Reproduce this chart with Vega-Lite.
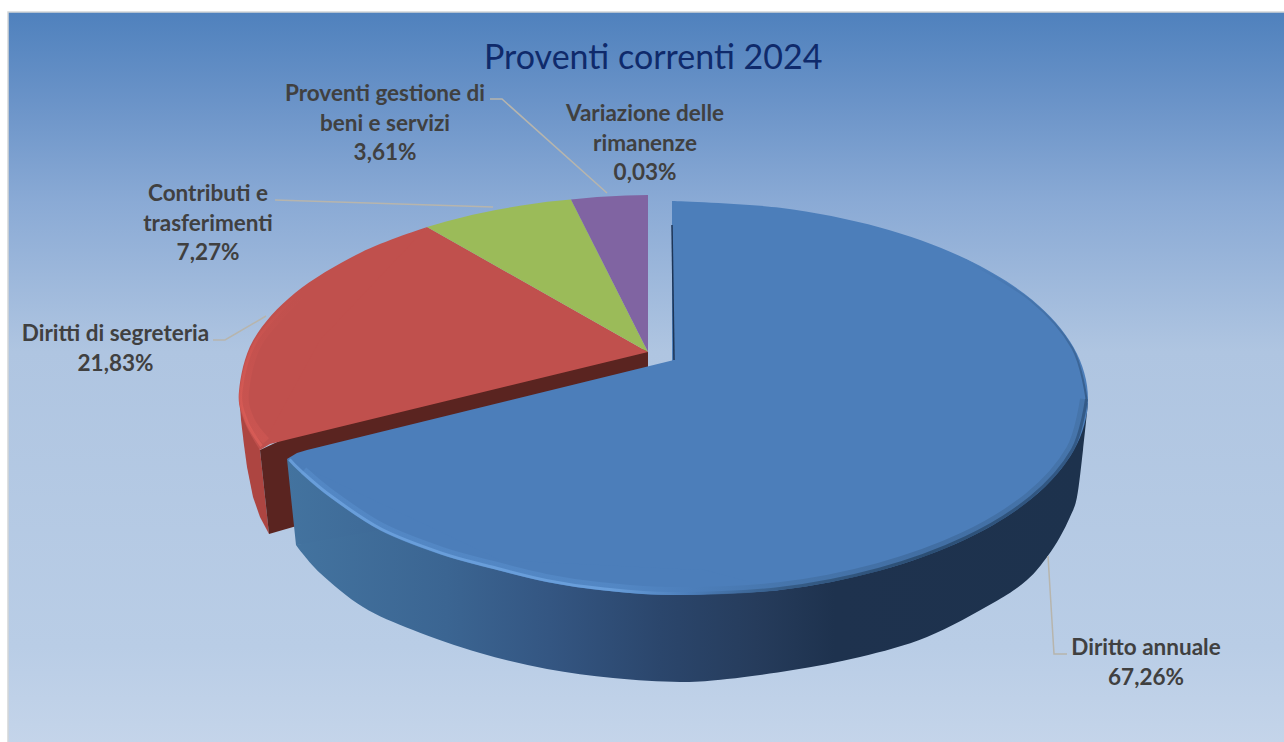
{
"$schema":"https://vega.github.io/schema/vega-lite/v6.json",
"width":1284,"height":742,"padding":0,"autosize":{"type":"none"},
"background":"#ffffff",
"config":{"view":{"stroke":null}},
"title":{"text":"Proventi correnti 2024","anchor":"start","frame":"group","dx":484,"offset":-76,"font":"Lato","fontSize":34,"fontWeight":"normal","color":"#0f2a6b"},
"datasets":{
"sfondo":[{"x":8,"y":12},{"x":1290,"y":12},{"x":1290,"y":750},{"x":8,"y":750}],
"annuale_arc":[{"x":672,"y":201},{"x":780,"y":207.8},{"x":880,"y":227.5},{"x":966.2,"y":259},{"x":1032.3,"y":300},{"x":1073.8,"y":347.8},{"x":1088,"y":399},{"x":1073.8,"y":450.2},{"x":1032.3,"y":498},{"x":966.2,"y":539},{"x":880,"y":570.5},{"x":780,"y":590},{"x":672,"y":595}],
"annuale_arc_left":[{"x":780,"y":590},{"x":672,"y":595},{"x":600,"y":590},{"x":547,"y":582},{"x":490,"y":568},{"x":440,"y":554},{"x":380,"y":530},{"x":330,"y":497},{"x":300,"y":472},{"x":287,"y":459}],
"annuale_core":[{"x":674,"y":360},{"x":307,"y":450},{"x":297,"y":453},{"x":287,"y":459},{"x":500,"y":560},{"x":700,"y":570},{"x":700,"y":360}],
"annuale_wall":[{"x":296,"y":545},{"x":320,"y":573},{"x":363,"y":607},{"x":413,"y":630},{"x":480,"y":653},{"x":547,"y":669},{"x":613,"y":678},{"x":680,"y":682},{"x":727,"y":679},{"x":793,"y":670},{"x":860,"y":657},{"x":927,"y":637},{"x":993,"y":603},{"x":1027,"y":580},{"x":1047,"y":557},{"x":1060,"y":537},{"x":1070,"y":517},{"x":1077,"y":497},{"x":1083,"y":450},{"x":1088,"y":403}],
"annuale_wall_end":[{"x":287,"y":459},{"x":296,"y":545},{"x":420,"y":540},{"x":420,"y":500},{"x":330,"y":480}],
"annuale_soft":[{"x":303.6,"y":470.5},{"x":333.3,"y":495},{"x":382.8,"y":527.4},{"x":442.2,"y":551},{"x":491.7,"y":564.6},{"x":548.2,"y":578.3},{"x":600.7,"y":586.2},{"x":672,"y":591},{"x":779,"y":586.2},{"x":878,"y":567},{"x":963.4,"y":536.2},{"x":1028.8,"y":496},{"x":1070,"y":449.2},{"x":1084,"y":399}],
"annuale_edge":[{"x":289.5,"y":459.5},{"x":301.3,"y":471.4},{"x":331.2,"y":496.3},{"x":381,"y":529},{"x":440.8,"y":552.8},{"x":490.7,"y":566.7},{"x":547.5,"y":580.6},{"x":600.3,"y":588.5},{"x":672,"y":593.5},{"x":779.6,"y":588.5},{"x":879.3,"y":569.2},{"x":965.1,"y":537.9},{"x":1031,"y":497.2},{"x":1072.4,"y":449.8},{"x":1086.5,"y":399}],
"annuale_rim":[{"x":1086.5,"y":399},{"x":1072.4,"y":348.2},{"x":1031,"y":300.8},{"x":965.2,"y":260}],
"annuale_inner":[{"x":672,"y":225},{"x":674,"y":360}],
"segreteria_arc":[{"x":427,"y":227},{"x":361,"y":252.4},{"x":295,"y":293},{"x":253.2,"y":340.3},{"x":239,"y":391},{"x":244.5,"y":422},{"x":260,"y":450}],
"segreteria_core":[{"x":427,"y":227},{"x":648,"y":352},{"x":290,"y":439},{"x":270,"y":444},{"x":260,"y":450},{"x":320,"y":340}],
"segreteria_wall":[{"x":239,"y":391},{"x":241,"y":420},{"x":244,"y":445},{"x":247,"y":467},{"x":253,"y":497},{"x":260,"y":517},{"x":269,"y":534},{"x":260,"y":450}],
"segreteria_cut":[{"x":260,"y":450},{"x":290,"y":436},{"x":645,"y":349},{"x":648,"y":352},{"x":648,"y":367},{"x":300,"y":525},{"x":269,"y":534}],
"segreteria_soft":[{"x":300,"y":296},{"x":259,"y":342},{"x":245,"y":391},{"x":250,"y":419},{"x":266,"y":441}],
"segreteria_edge":[{"x":297,"y":294.5},{"x":256,"y":341},{"x":241,"y":391},{"x":246.5,"y":421},{"x":261.5,"y":446}],
"contributi_top":[{"x":648,"y":352},{"x":427,"y":227},{"x":447,"y":221.3},{"x":472.7,"y":214.8},{"x":495.8,"y":209.9},{"x":521.6,"y":205.4},{"x":547.3,"y":201.7},{"x":571,"y":199.5}],
"gestione_top":[{"x":648,"y":352},{"x":571,"y":199.5},{"x":597,"y":197},{"x":626,"y":195.5},{"x":648,"y":195}],
"leaders":[
{"name":"Proventi gestione di beni e servizi","x":490,"y":99},{"name":"Proventi gestione di beni e servizi","x":502,"y":99},{"name":"Proventi gestione di beni e servizi","x":607,"y":193},
{"name":"Contributi e trasferimenti","x":275,"y":200},{"name":"Contributi e trasferimenti","x":493,"y":207},
{"name":"Diritti di segreteria","x":213,"y":340},{"name":"Diritti di segreteria","x":225,"y":340},{"name":"Diritti di segreteria","x":266,"y":316},
{"name":"Diritto annuale","x":1048,"y":556},{"name":"Diritto annuale","x":1054,"y":654},{"name":"Diritto annuale","x":1067,"y":654}],
"labels":[
{"name":"Diritto annuale","share":67.26,"label":"Diritto annuale\n67,26%","cx":1146,"cy":648},
{"name":"Diritti di segreteria","share":21.83,"label":"Diritti di segreteria\n21,83%","cx":115.5,"cy":334},
{"name":"Contributi e trasferimenti","share":7.27,"label":"Contributi e\ntrasferimenti\n7,27%","cx":208,"cy":194},
{"name":"Proventi gestione di beni e servizi","share":3.61,"label":"Proventi gestione di\nbeni e servizi\n3,61%","cx":385,"cy":94},
{"name":"Variazione delle rimanenze","share":0.03,"label":"Variazione delle\nrimanenze\n0,03%","cx":645,"cy":114}]
},
"encoding":{
"x":{"field":"x","type":"quantitative","axis":null,"scale":{"domain":[0,1284],"nice":false,"zero":false}},
"y":{"field":"y","type":"quantitative","axis":null,"scale":{"domain":[0,742],"reverse":true,"nice":false,"zero":false}},
"order":{"value":null}
},
"layer":[
{"data":{"name":"sfondo"},"mark":{"type":"line","interpolate":"linear-closed","stroke":"#d4d6d8","strokeWidth":1.5,"fill":{"gradient":"linear","x1":0,"y1":0,"x2":0,"y2":1,"stops":[{"offset":0,"color":"#4f81bd"},{"offset":0.12,"color":"#6a93c8"},{"offset":0.257,"color":"#8aaad5"},{"offset":0.46,"color":"#afc5e1"},{"offset":0.86,"color":"#b9cde6"},{"offset":1,"color":"#c5d5ea"}]}}},
{"data":{"name":"segreteria_wall"},"mark":{"type":"line","interpolate":"linear-closed","strokeWidth":0,"fill":"#ad4541"}},
{"data":{"name":"segreteria_cut"},"mark":{"type":"line","interpolate":"linear-closed","strokeWidth":0,"fill":"#5a2420"}},
{"data":{"name":"segreteria_arc"},"mark":{"type":"line","interpolate":"cardinal","strokeWidth":0,"fill":"#c0504d"}},
{"data":{"name":"segreteria_core"},"mark":{"type":"line","interpolate":"linear-closed","strokeWidth":0,"fill":"#c0504d"}},
{"data":{"name":"segreteria_soft"},"mark":{"type":"line","interpolate":"cardinal","strokeWidth":8,"opacity":0.3,"stroke":{"gradient":"linear","x1":0,"y1":0,"x2":0,"y2":1,"stops":[{"offset":0,"color":"#c0504d"},{"offset":0.5,"color":"#d45853"},{"offset":1,"color":"#e2605a"}]}}},
{"data":{"name":"segreteria_edge"},"mark":{"type":"line","interpolate":"cardinal","strokeWidth":3,"opacity":0.55,"stroke":{"gradient":"linear","x1":0,"y1":0,"x2":0,"y2":1,"stops":[{"offset":0,"color":"#c0504d"},{"offset":0.4,"color":"#d45853"},{"offset":1,"color":"#ea655d"}]}}},
{"data":{"name":"contributi_top"},"mark":{"type":"line","interpolate":"linear-closed","strokeWidth":0,"fill":"#9bbb59"}},
{"data":{"name":"gestione_top"},"mark":{"type":"line","interpolate":"linear-closed","strokeWidth":0,"fill":"#8064a2"}},
{"data":{"name":"annuale_wall_end"},"mark":{"type":"line","interpolate":"linear-closed","strokeWidth":0,"fill":{"gradient":"linear","x1":0,"y1":0,"x2":1,"y2":0,"stops":[{"offset":0,"color":"#43739f"},{"offset":1,"color":"#3c6694"}]}}},
{"data":{"name":"annuale_wall"},"mark":{"type":"line","interpolate":"cardinal","strokeWidth":0,"fill":{"gradient":"linear","x1":0,"y1":0,"x2":1,"y2":0,"stops":[{"offset":0,"color":"#43739f"},{"offset":0.19,"color":"#3b6592"},{"offset":0.32,"color":"#345682"},{"offset":0.46,"color":"#2b466c"},{"offset":0.58,"color":"#263c5c"},{"offset":0.68,"color":"#1e324e"},{"offset":1,"color":"#1d324d"}]}}},
{"data":{"name":"annuale_arc"},"mark":{"type":"line","interpolate":"cardinal","strokeWidth":0,"fill":"#4c7eba"}},
{"data":{"name":"annuale_arc_left"},"mark":{"type":"line","interpolate":"cardinal","strokeWidth":0,"fill":"#4c7eba"}},
{"data":{"name":"annuale_core"},"mark":{"type":"line","interpolate":"linear-closed","strokeWidth":0,"fill":"#4c7eba"}},
{"data":{"name":"annuale_soft"},"mark":{"type":"line","interpolate":"cardinal","strokeWidth":8,"opacity":0.35,"stroke":{"gradient":"linear","x1":0,"y1":0,"x2":1,"y2":0,"stops":[{"offset":0,"color":"#5f97d6"},{"offset":0.4,"color":"#5f97d6"},{"offset":0.5,"color":"#4c7eba"},{"offset":0.62,"color":"#3b6490"},{"offset":0.8,"color":"#2e5178"},{"offset":1,"color":"#3b6490"}]}}},
{"data":{"name":"annuale_edge"},"mark":{"type":"line","interpolate":"cardinal","strokeWidth":3,"opacity":0.7,"stroke":{"gradient":"linear","x1":0,"y1":0,"x2":1,"y2":0,"stops":[{"offset":0,"color":"#72a8e4"},{"offset":0.4,"color":"#72a8e4"},{"offset":0.5,"color":"#4c7eba"},{"offset":0.62,"color":"#2f5278"},{"offset":0.8,"color":"#22405f"},{"offset":1,"color":"#2c4f78"}]}}},
{"data":{"name":"annuale_rim"},"mark":{"type":"line","interpolate":"cardinal","strokeWidth":2,"opacity":0.7,"stroke":{"gradient":"linear","x1":0,"y1":1,"x2":0,"y2":0,"stops":[{"offset":0,"color":"#2c4f78"},{"offset":1,"color":"#4c7eba"}]}}},
{"data":{"name":"annuale_inner"},"mark":{"type":"line","stroke":"#1d3557","strokeWidth":1.5}},
{"data":{"name":"leaders"},"mark":{"type":"line","stroke":"#b7b5ad","strokeWidth":1.5},"encoding":{"detail":{"field":"name"}}},
{"data":{"name":"labels"},"mark":{"type":"text","font":"Lato","fontWeight":"bold","fontSize":22.5,"color":"#404040","lineBreak":"\n","lineHeight":29.5,"baseline":"middle","align":"center"},
 "encoding":{"x":{"field":"cx","type":"quantitative"},"y":{"field":"cy","type":"quantitative"},"text":{"field":"label"},"order":{"value":null}}}
]
}
